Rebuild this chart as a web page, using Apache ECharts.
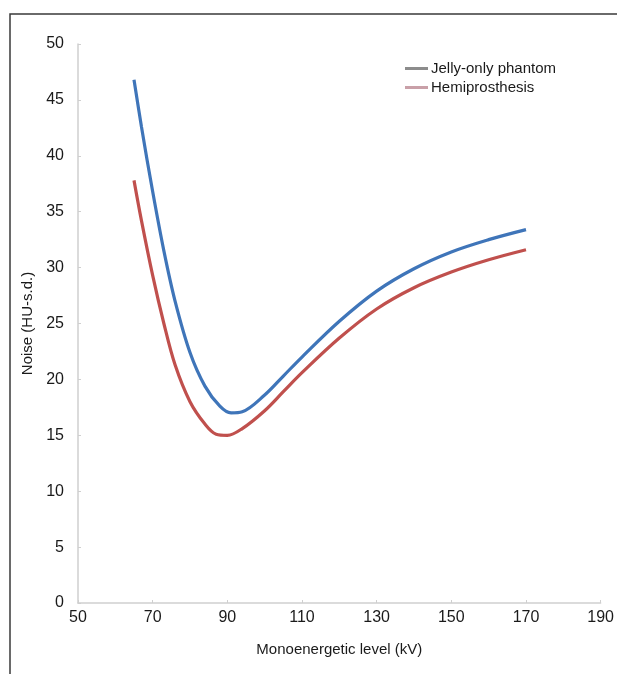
<!DOCTYPE html>
<html>
<head>
<meta charset="utf-8">
<script src="https://cdn.jsdelivr.net/npm/echarts@6/dist/echarts.min.js"></script>
<style>
html,body{margin:0;padding:0;background:#fff;}
#chart{width:617px;height:674px;}
</style>
</head>
<body>
<div id="chart"></div>
<script>
const seriesNames = ['Jelly-only phantom', 'Hemiprosthesis'];
const kvLevels = [65, 67, 70, 73, 76, 80, 84, 88, 91, 94, 100, 105, 110, 120, 130, 140, 150, 160, 170];
const jellyNoise = [46.8, 42.6, 36.8, 31.5, 27.0, 22.4, 19.4, 17.6, 17.0, 17.1, 18.6, 20.3, 22.0, 25.2, 27.9, 29.9, 31.4, 32.5, 33.4];
const kvLevelsHemi = [65, 67, 70, 73, 76, 80, 84, 87, 90, 94, 100, 105, 110, 120, 130, 140, 150, 160, 170];
const hemiNoise = [37.8, 34.2, 29.3, 25.0, 21.3, 18.0, 16.0, 15.1, 15.0, 15.6, 17.2, 18.9, 20.6, 23.7, 26.3, 28.2, 29.6, 30.7, 31.6];
const xTicks = {min: 50, max: 190, step: 20};
const yTicks = {min: 0, max: 50, step: 5};

const chart = echarts.init(document.getElementById('chart'), null, {renderer: 'canvas'});
const font = 'Liberation Sans, Arial, Helvetica, sans-serif';
chart.setOption({
  animation: false,
  backgroundColor: '#fff',
  graphic: [{
    type: 'rect',
    shape: {x: 10, y: 14, width: 800, height: 800},
    style: {fill: 'none', stroke: '#3a3a3a', lineWidth: 1.5},
    silent: true
  }],
  grid: {left: 78, right: 12, top: 44, bottom: 71, containLabel: false},
  legend: {
    left: 400, top: 56, orient: 'vertical', itemGap: 4,
    icon: 'rect', itemWidth: 23, itemHeight: 3,
    textStyle: {fontFamily: font, fontSize: 15, color: '#1a1a1a', padding: [0, 0, 0, -2]},
    data: [
      {name: seriesNames[0], itemStyle: {color: '#8c8c8c'}},
      {name: seriesNames[1], itemStyle: {color: '#c9a0a8'}}
    ]
  },
  xAxis: {
    type: 'value', min: xTicks.min, max: xTicks.max, interval: xTicks.step,
    name: 'Monoenergetic level (kV)', nameLocation: 'middle', nameGap: 39,
    nameTextStyle: {fontFamily: font, fontSize: 15, color: '#1a1a1a'},
    axisLine: {lineStyle: {color: '#cfcfcf', width: 1.5}},
    axisTick: {inside: true, length: 3, lineStyle: {color: '#cfcfcf'}},
    axisLabel: {fontFamily: font, fontSize: 16, color: '#1a1a1a', margin: 7},
    splitLine: {show: false}
  },
  yAxis: {
    type: 'value', min: yTicks.min, max: yTicks.max, interval: yTicks.step,
    name: 'Noise (HU-s.d.)', nameLocation: 'middle', nameGap: 42, nameRotate: 90,
    nameTextStyle: {fontFamily: font, fontSize: 15, color: '#1a1a1a'},
    axisLine: {show: true, lineStyle: {color: '#cfcfcf', width: 1.5}},
    axisTick: {show: true, inside: true, length: 3, lineStyle: {color: '#cfcfcf'}},
    axisLabel: {fontFamily: font, fontSize: 16, color: '#1a1a1a', margin: 14},
    splitLine: {show: false}
  },
  series: [
    {
      name: seriesNames[0], type: 'line', smooth: 0.35, showSymbol: false,
      lineStyle: {color: '#3f75b9', width: 3.2},
      itemStyle: {color: '#3f75b9'},
      data: kvLevels.map((k, i) => [k, jellyNoise[i]])
    },
    {
      name: seriesNames[1], type: 'line', smooth: 0.35, showSymbol: false,
      lineStyle: {color: '#c0504d', width: 3.2},
      itemStyle: {color: '#c0504d'},
      data: kvLevelsHemi.map((k, i) => [k, hemiNoise[i]])
    }
  ]
});
</script>
</body>
</html>
